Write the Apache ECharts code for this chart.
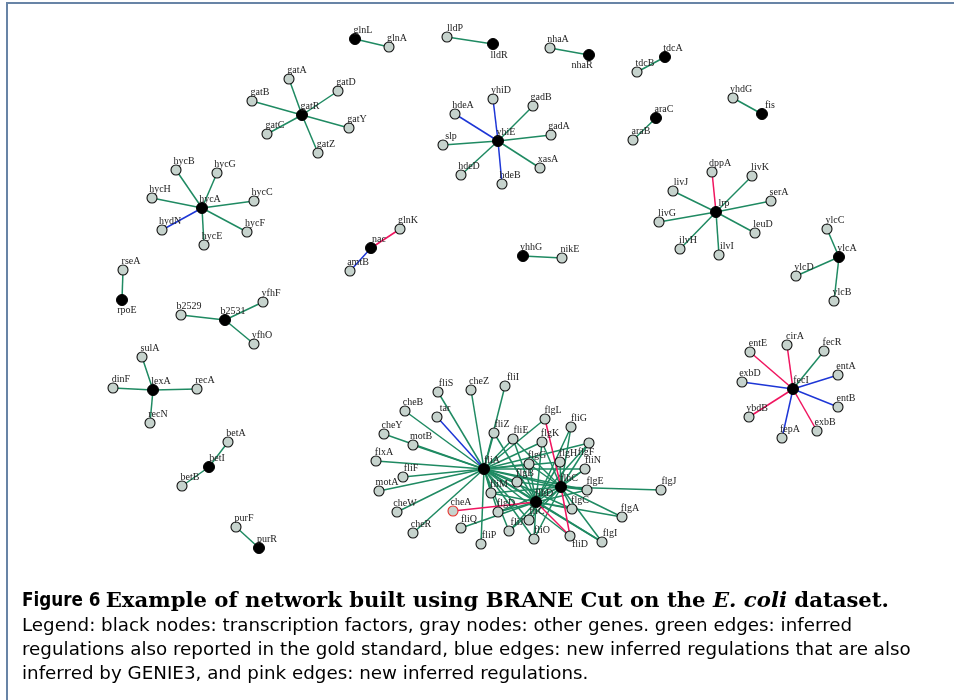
<!DOCTYPE html>
<html><head><meta charset="utf-8">
<script src="https://cdn.jsdelivr.net/npm/echarts@6/dist/echarts.min.js"></script>
<style>html,body{margin:0;padding:0;background:#fff}#c{width:954px;height:700px}</style>
</head><body><div id="c"></div>
<script>
// ---------- DATA ----------
const nodeNames = ["glnL","glnA","gatA","gatD","gatB","gatR","gatC","gatY","gatZ","hycB","hycG","hycH","hycA","hycC","hydN","hycF","hycE","glnK","nac","amtB","yhhG","nikE","lldP","lldR","nhaA","nhaR","tdcA","tdcB","yhiD","gadB","hdeA","yhiE","gadA","slp","xasA","hdeD","hdeB","araC","araB","yhdG","fis","dppA","livK","livJ","serA","lrp","livG","leuD","ilvH","ilvI","ylcC","ylcA","ylcD","ylcB","rseA","rpoE","b2529","b2531","yfhF","yfhO","sulA","dinF","lexA","recA","recN","betA","betI","betB","purF","purR","cirA","entE","fecR","entA","exbD","fecI","entB","ybdB","exbB","fepA","fliS","cheZ","fliI","cheB","tar","cheY","fliZ","motB","fliE","flxA","fliA","fliF","motA","cheW","cheA","cheR","fliQ","fliP","flgL","fliG","flgK","flgF","flgG","flgH","fliN","flgB","flhC","flgE","flgJ","fliM","flhD","flgD","flgC","flgA","fliC","fliJ","fliD","fliO","flgI"];
const nodeX = [355,389,289,338,252,302,267,349,318,176,217,152,202,254,162,247,204,400,371,350,523,562,447,493,550,589,665,637,493,533,455,498,551,443,540,461,502,656,633,733,762,712,752,673,771,716,659,755,680,719,827,839,796,834,123,122,181,225,263,254,142,113,153,197,150,228,209,182,236,259,787,750,824,838,742,793,838,749,817,782,438,471,505,405,437,384,494,413,513,376,484,403,379,397,453,413,461,481,545,571,542,589,529,560,585,517,561,587,661,491,536,498,572,622,529,509,570,534,602];
const nodeY = [39,47,79,91,101,115,134,128,153,170,173,198,208,201,230,232,245,229,248,271,256,258,37,44,48,55,57,72,99,106,114,141,135,145,168,175,184,118,140,98,114,172,176,191,201,212,222,233,249,255,229,257,276,301,270,300,315,320,302,344,357,388,390,389,423,442,467,486,527,548,345,352,351,375,382,389,407,417,431,438,392,390,386,411,417,434,433,445,439,461,469,477,491,512,511,533,528,544,419,427,442,443,464,462,469,482,487,490,490,493,502,512,509,517,520,531,536,539,542];
// transcription factors (black nodes)
const tfNodes = ["glnL","gatR","hycA","nac","yhhG","lldR","nhaR","tdcA","yhiE","araC","fis","lrp","ylcA","rpoE","b2531","lexA","betI","purR","fecI","fliA","flhC","flhD"];
// edges: green = in gold standard, blue = new & GENIE3, pink = new
const edgesGreen = [
 ["glnL","glnA"],
 ["gatR","gatA"],["gatR","gatD"],["gatR","gatB"],["gatR","gatC"],["gatR","gatY"],["gatR","gatZ"],
 ["hycA","hycB"],["hycA","hycG"],["hycA","hycH"],["hycA","hycC"],["hycA","hycF"],["hycA","hycE"],
 ["yhhG","nikE"],["lldR","lldP"],["nhaR","nhaA"],["tdcA","tdcB"],
 ["yhiE","gadB"],["yhiE","gadA"],["yhiE","slp"],["yhiE","xasA"],["yhiE","hdeD"],
 ["araC","araB"],["fis","yhdG"],
 ["lrp","livK"],["lrp","livJ"],["lrp","serA"],["lrp","livG"],["lrp","leuD"],["lrp","ilvH"],["lrp","ilvI"],
 ["ylcA","ylcC"],["ylcA","ylcD"],["ylcA","ylcB"],
 ["rpoE","rseA"],["b2531","b2529"],["b2531","yfhF"],["b2531","yfhO"],
 ["lexA","sulA"],["lexA","dinF"],["lexA","recA"],["lexA","recN"],
 ["betI","betA"],["betI","betB"],["purR","purF"],["fecI","fecR"],
 ["fliA","fliS"],["fliA","cheZ"],["fliA","fliI"],["fliA","cheB"],["fliA","cheY"],["fliA","motB"],["fliA","flxA"],["fliA","fliF"],["fliA","motA"],["fliA","cheW"],["fliA","cheR"],["fliA","fliP"],["fliA","fliZ"],["fliA","fliE"],["fliA","flgL"],["fliA","flgK"],["fliA","flgG"],["fliA","flgB"],["fliA","fliM"],["fliA","flgD"],["fliA","fliC"],["fliA","fliD"],["fliA","fliN"],["fliA","flgF"],["fliA","flgH"],["fliA","flgE"],["fliA","flgC"],["fliA","flgI"],["fliA","fliO"],["fliA","fliJ"],
 ["flhD","fliZ"],["flhD","fliE"],["flhD","flgK"],["flhD","flgG"],["flhD","flgB"],["flhD","fliM"],["flhD","flgD"],["flhD","fliQ"],["flhD","fliJ"],["flhD","fliO"],["flhD","flgC"],["flhD","flgA"],["flhD","flgI"],["flhD","flgE"],["flhD","fliN"],["flhD","flgF"],["flhD","fliG"],["flhD","fliC"],["flhD","flgH"],["flhD","fliA"],
 ["flhC","flgJ"],["flhC","flgE"],["flhC","flgA"],["flhC","flgI"],["flhC","fliG"],["flhC","flgK"],["flhC","flgH"],["flhC","fliE"],["flhC","flgG"],["flhC","flgB"],["flhC","fliM"],["flhC","flgD"],["flhC","fliJ"],["flhC","fliO"],["flhC","fliC"],["flhC","fliN"],["flhC","flgF"],["flhC","flgC"],["flhC","fliA"]
];
const edgesBlue = [["hycA","hydN"],["nac","amtB"],["yhiE","yhiD"],["yhiE","hdeA"],["yhiE","hdeB"],["fecI","entA"],["fecI","exbD"],["fecI","entB"],["fecI","fepA"],["fliA","tar"]];
const edgesPink = [["nac","glnK"],["lrp","dppA"],["fecI","cirA"],["fecI","entE"],["fecI","ybdB"],["fecI","exbB"],["flhD","cheA"],["flhD","fliD"],["flhC","flgL"],["flhC","fliD"]];
const captionTitle = ["Figure 6", "Example of network built using BRANE Cut on the ", "E. coli", " dataset."];
const captionLines = [
 "Legend: black nodes: transcription factors, gray nodes: other genes. green edges: inferred",
 "regulations also reported in the gold standard, blue edges: new inferred regulations that are also",
 "inferred by GENIE3, and pink edges: new inferred regulations."
];

// ---------- STYLE / RENDER ----------
const labelOffsets = {lldR:[6,11], nhaR:[-7,10], rpoE:[5,10], fliD:[10,8], flgF:[-3,9]};
const outlineRed = ["cheA"];
const tfSet = new Set(tfNodes);
const nodes = nodeNames.map((n,i) => {
  const tf = tfSet.has(n);
  return {
    name: n,
    value: [nodeX[i], nodeY[i]],
    symbolSize: tf ? 11 : 10,
    itemStyle: tf ? {color:'#000', borderColor:'#000', borderWidth:1}
      : {color:'#c6d3cd', borderColor: outlineRed.includes(n) ? '#e8302a' : '#111', borderWidth: 1.1},
    label: {offset: labelOffsets[n] || [8,-9]}
  };
});
const links = [];
edgesGreen.forEach(e => links.push({source:e[0], target:e[1], lineStyle:{color:'#1f8a62'}}));
edgesBlue.forEach(e => links.push({source:e[0], target:e[1], lineStyle:{color:'#1d36d6'}}));
edgesPink.forEach(e => links.push({source:e[0], target:e[1], lineStyle:{color:'#f0155f'}}));

const chart = echarts.init(document.getElementById('c'), null, {renderer:'canvas'});
const lineFont = '18.3px "DejaVu Sans", sans-serif';
chart.setOption({
  animation: false,
  backgroundColor: '#fff',
  grid: {left:0, right:0, top:0, bottom:0},
  xAxis: {type:'value', min:0, max:954, show:false},
  yAxis: {type:'value', min:0, max:700, inverse:true, show:false},
  series: [{
    type: 'graph',
    coordinateSystem: 'cartesian2d',
    layout: 'none',
    symbol: 'circle',
    data: nodes,
    links: links,
    lineStyle: {width: 1.5, opacity: 1, curveness: 0},
    label: {show:true, position:'inside', fontFamily:'"Liberation Serif", "DejaVu Serif", serif', fontSize:10, color:'#222'},
    emphasis: {disabled: true},
    z: 2
  }],
  graphic: [
    {type:'rect', shape:{x:7, y:3, width:960, height:720}, style:{fill:'none', stroke:'#6884a6', lineWidth:2}, z:0},
    {type:'text', x:22, y:601, style:{
      text: '{a|' + captionTitle[0] + '}{s| }{b|' + captionTitle[1] + '}{c|' + captionTitle[2] + '}{b|' + captionTitle[3] + '}',
      verticalAlign:'middle',
      rich: {
        a: {font:'bold 18.7px "DejaVu Sans Condensed", "DejaVu Sans", sans-serif', fill:'#000'},
        s: {font:'bold 15px "DejaVu Sans", sans-serif', fill:'#000'},
        b: {font:'bold 21.2px "DejaVu Serif", serif', fill:'#000'},
        c: {font:'italic bold 21.2px "DejaVu Serif", serif', fill:'#000'}
      }
    }},
    {type:'text', x:22, y:626, style:{text:captionLines[0], font:lineFont, fill:'#000', verticalAlign:'middle'}},
    {type:'text', x:22, y:650, style:{text:captionLines[1], font:lineFont, fill:'#000', verticalAlign:'middle'}},
    {type:'text', x:22, y:674, style:{text:captionLines[2], font:lineFont, fill:'#000', verticalAlign:'middle'}}
  ]
});
</script></body></html>
